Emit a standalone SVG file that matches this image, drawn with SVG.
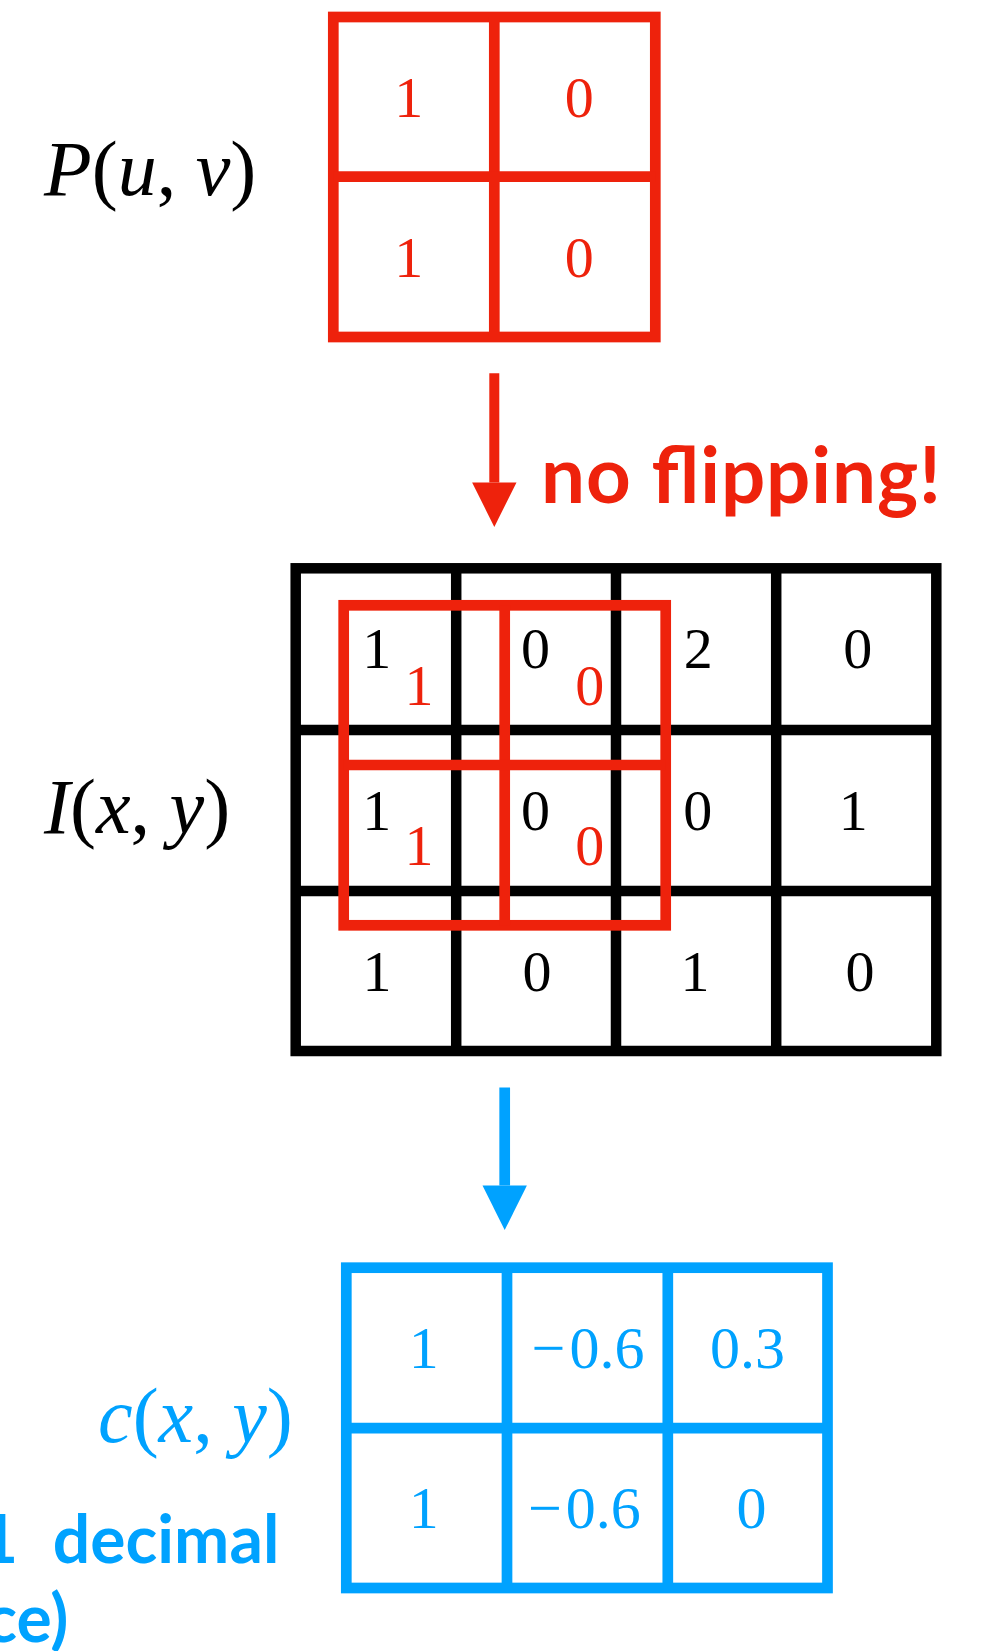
<svg xmlns="http://www.w3.org/2000/svg" xmlns:xlink="http://www.w3.org/1999/xlink" width="994" height="1651" viewBox="0 0 994 1651">
  <style>
    .grid-red { fill: none; stroke: #EE220C; stroke-width: 10.7; }
    .grid-black { fill: none; stroke: #000000; stroke-width: 10.5; }
    .grid-blue { fill: none; stroke: #00A2FF; stroke-width: 10.7; }
    .num { font-family: "Liberation Serif", "Times New Roman", serif; font-size: 58px; text-anchor: middle; }
    .num-lg { font-size: 60px; }
    .math { font-family: "Liberation Serif", "Times New Roman", serif; font-size: 78px; }
    .math .it { font-style: italic; }
    .note { font-family: Lato, "Noto Sans", sans-serif; font-weight: 700; }
    .red { fill: #EE220C; }
    .black { fill: #000000; }
    .blue { fill: #00A2FF; }
  </style>
  <defs>
    <marker id="head-red" markerUnits="userSpaceOnUse" orient="auto" refX="0" refY="0" markerWidth="50" markerHeight="50" overflow="visible">
      <path d="M0,-22.2 L44.4,0 L0,22.2 Z" fill="#EE220C"/>
    </marker>
    <marker id="head-blue" markerUnits="userSpaceOnUse" orient="auto" refX="0" refY="0" markerWidth="50" markerHeight="50" overflow="visible">
      <path d="M0,-22.2 L44.4,0 L0,22.2 Z" fill="#00A2FF"/>
    </marker>
  </defs>

  <!-- labels -->
  <g id="label-P">
    <text class="math black" x="44" y="195"><tspan class="it">P</tspan>(<tspan class="it">u</tspan>, <tspan class="it">v</tspan>)</text>
  </g>
  <g id="label-I">
    <text class="math black" x="44" y="833"><tspan class="it">I</tspan>(<tspan class="it">x</tspan>, <tspan class="it">y</tspan>)</text>
  </g>
  <g id="label-c">
    <text class="math blue" x="98" y="1442"><tspan class="it">c</tspan>(<tspan class="it">x</tspan>, <tspan class="it">y</tspan>)</text>
  </g>
  <!-- note runs past the left edge of the canvas -->
  <g id="label-note">
    <text class="note blue" font-size="66" text-anchor="end"><tspan x="18" y="1563.3">1</tspan><tspan x="279.3" y="1563.3">decimal</tspan><tspan x="68.3" y="1641.7">ce)</tspan></text>
  </g>

  <!-- kernel P(u,v) -->
  <g id="kernel-P">
    <rect class="grid-red" x="333.3" y="17" width="322" height="320"/>
    <line class="grid-red" x1="494.3" y1="17" x2="494.3" y2="337"/>
    <line class="grid-red" x1="333.3" y1="176.7" x2="655.3" y2="176.7"/>
    <g class="num red">
      <text x="408.7" y="116.7">1</text>
      <text x="579.3" y="116.7">0</text>
      <text x="408.7" y="276.7">1</text>
      <text x="579.3" y="276.7">0</text>
    </g>
  </g>

  <!-- image I(x,y) -->
  <g id="image-I">
    <rect class="grid-black" x="295.7" y="568.3" width="640.6" height="482.7"/>
    <line class="grid-black" x1="456.2" y1="568.3" x2="456.2" y2="1051"/>
    <line class="grid-black" x1="616" y1="568.3" x2="616" y2="1051"/>
    <line class="grid-black" x1="776.2" y1="568.3" x2="776.2" y2="1051"/>
    <line class="grid-black" x1="295.7" y1="730" x2="936.3" y2="730"/>
    <line class="grid-black" x1="295.7" y1="891" x2="936.3" y2="891"/>
    <g class="num black">
      <text x="376.7" y="668.3">1</text>
      <text x="535.5" y="668.3">0</text>
      <text x="698.3" y="668.3">2</text>
      <text x="857.8" y="668.3">0</text>
      <text x="376.7" y="830">1</text>
      <text x="535.5" y="830">0</text>
      <text x="697.7" y="830">0</text>
      <text x="853.3" y="830">1</text>
      <text x="377" y="990.7">1</text>
      <text x="537" y="990.7">0</text>
      <text x="695" y="990.7">1</text>
      <text x="860" y="990.7">0</text>
    </g>
  </g>

  <!-- kernel laid over the image, same cells and values -->
  <g id="kernel-overlay">
    <use xlink:href="#kernel-P" href="#kernel-P" transform="translate(10.4,588.3)"/>
  </g>

  <!-- result c(x,y) -->
  <g id="result-c">
    <rect class="grid-blue" x="346.3" y="1267.7" width="481.2" height="320.3"/>
    <line class="grid-blue" x1="507" y1="1267.7" x2="507" y2="1588"/>
    <line class="grid-blue" x1="667.8" y1="1267.7" x2="667.8" y2="1588"/>
    <line class="grid-blue" x1="346.3" y1="1428.2" x2="827.5" y2="1428.2"/>
    <g class="num num-lg blue">
      <text x="423.8" y="1368.3">1</text>
      <text x="588" y="1368.3">−<tspan dx="4">0.6</tspan></text>
      <text x="747.5" y="1368.3">0.3</text>
      <text x="423.7" y="1527.7">1</text>
      <text x="584.3" y="1527.7">−<tspan dx="4">0.6</tspan></text>
      <text x="751.5" y="1527.7">0</text>
    </g>
  </g>

  <!-- connectors -->
  <g id="connectors">
    <line x1="494.3" y1="373.3" x2="494.3" y2="482.5" stroke="#EE220C" stroke-width="10" marker-end="url(#head-red)"/>
    <line x1="504.7" y1="1087.5" x2="504.7" y2="1185.6" stroke="#00A2FF" stroke-width="10.7" marker-end="url(#head-blue)"/>
    <text class="note red" x="541" y="502.7" font-size="78" textLength="400" lengthAdjust="spacing">no flipping!</text>
  </g>
</svg>
